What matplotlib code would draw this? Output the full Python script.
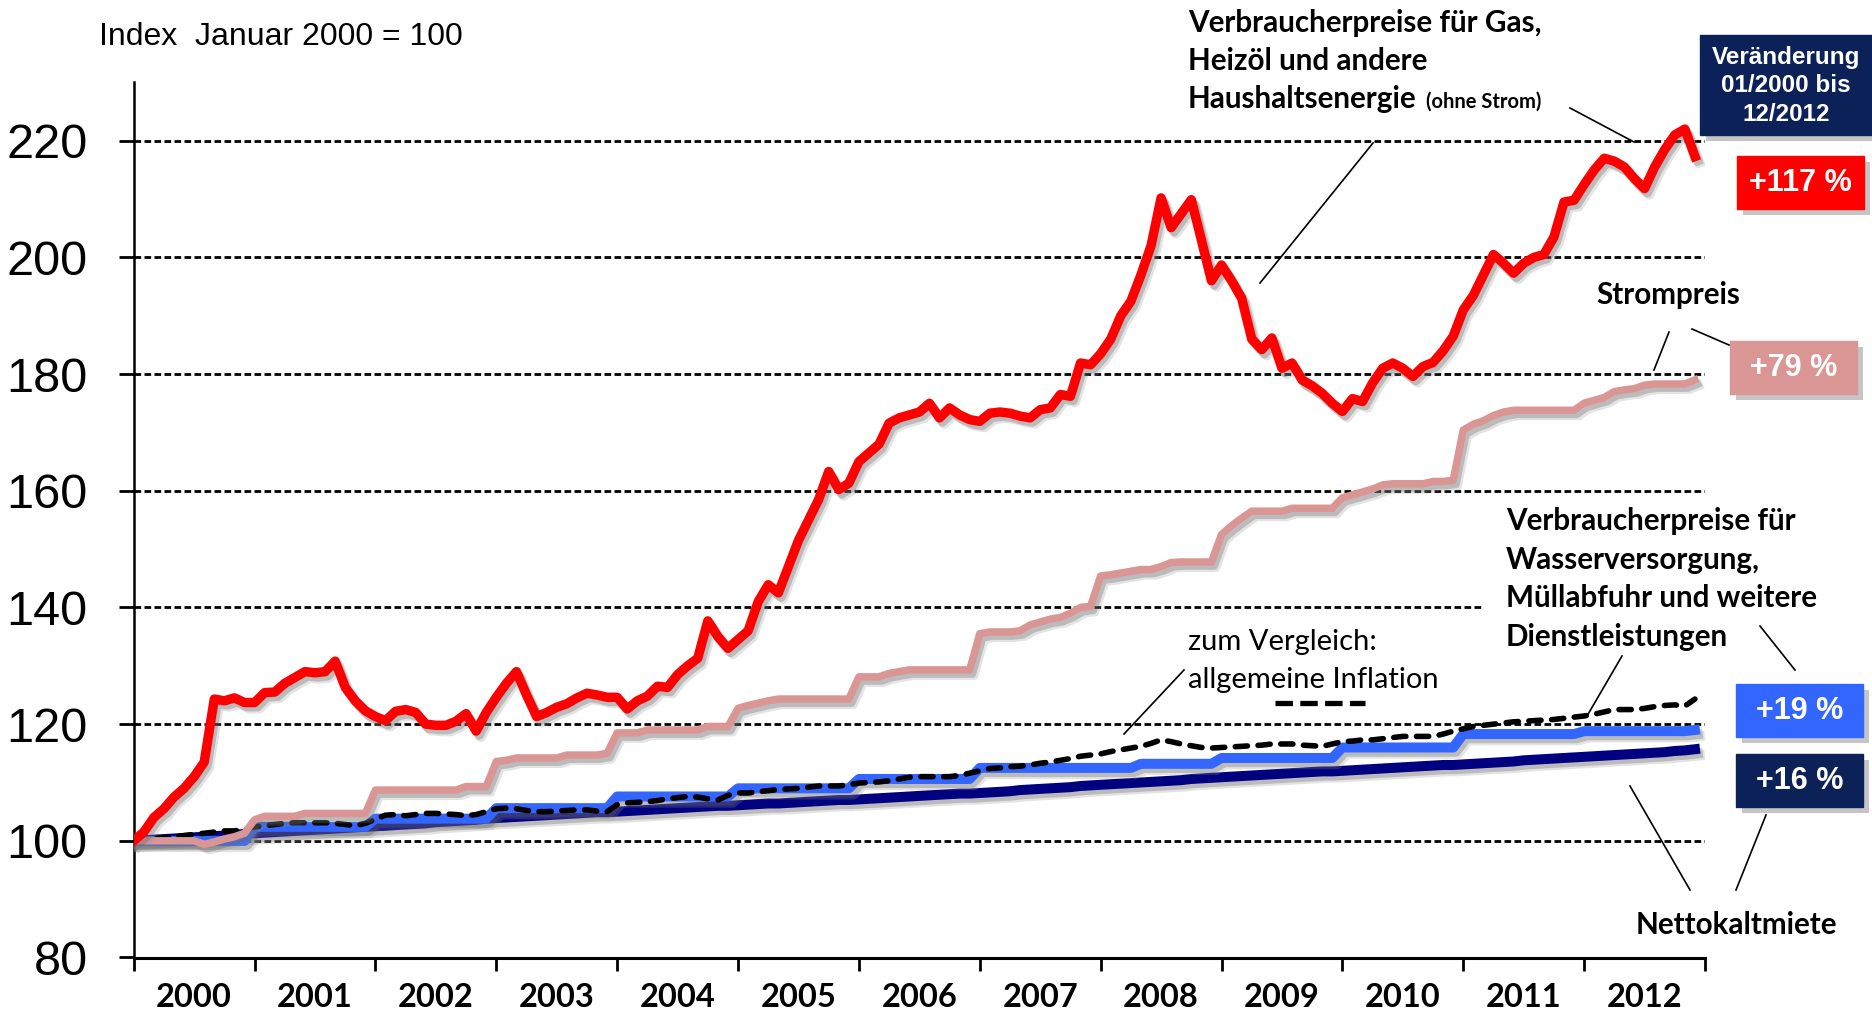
import numpy as np
import matplotlib
matplotlib.use("Agg")
import matplotlib.pyplot as plt
import matplotlib.patheffects as pe
from matplotlib.patches import Rectangle
from matplotlib.transforms import blended_transform_factory

# monthly index values, Jan 2000 = 100 (Jan 2000 .. Dec 2012)
gas = [
    100, 101.5, 104, 105.5, 107.5, 109, 111, 113.5, 124.3, 124, 124.5, 123.7,
    123.7, 125.4, 125.5, 127, 128, 129, 128.8, 129, 130.8, 126.3, 124, 122.3,
    121.3, 120.6, 122.2, 122.5, 122, 120, 119.8, 119.8, 120.5, 121.8, 118.8, 122,
    124.6, 127, 129, 125, 121.3, 122, 122.9, 123.5, 124.5, 125.3, 125, 124.6,
    124.6, 122.6, 124, 124.8, 126.5, 126.3, 128.5, 130, 131.3, 137.7, 135, 133,
    134.5, 136, 141, 143.9, 142.5, 147, 151.5, 155, 158.5, 163.3, 160.2, 161.3,
    165, 166.5, 168, 171.6, 172.5, 173, 173.5, 175, 172.5, 174.2, 173, 172.2,
    171.9, 173.3, 173.5, 173.3, 172.8, 172.5, 173.9, 174.2, 176.5, 176.2, 181.9, 181.6,
    183.5, 186, 190, 192.5, 197, 202, 210.2, 205.1, 207.5, 209.9, 203, 196,
    198.7, 196, 193, 186, 184.2, 186.2, 181, 181.9, 179, 178, 176.7, 175,
    173.6, 175.8, 175.3, 178.5, 181, 181.9, 181, 179.6, 181.3, 182, 184, 186.5,
    191, 193.5, 197, 200.5, 199, 197.3, 199, 200, 200.5, 203.5, 209.5, 209.8,
    212.5, 215, 217, 216.5, 215.5, 213.5, 211.8, 215.5, 218.5, 221, 222, 217.3,
]
strom = [
    100, 100, 100, 100, 100, 100, 100, 99.4, 99.8, 100.3, 100.7, 101.3,
    103.6, 104.2, 104.2, 104.2, 104.2, 104.7, 104.7, 104.7, 104.7, 104.7, 104.7, 104.7,
    108.7, 108.7, 108.7, 108.7, 108.7, 108.7, 108.7, 108.7, 108.7, 109.3, 109.3, 109.3,
    113.6, 113.8, 114.2, 114.2, 114.2, 114.2, 114.2, 114.7, 114.7, 114.7, 114.7, 115.0,
    118.5, 118.5, 118.5, 119, 119, 119, 119, 119, 119, 119.6, 119.6, 119.6,
    122.7, 123.2, 123.6, 124.0, 124.3, 124.3, 124.3, 124.3, 124.3, 124.3, 124.3, 124.3,
    128.1, 128.1, 128.1, 128.7, 129.0, 129.3, 129.3, 129.3, 129.3, 129.3, 129.3, 129.3,
    135.5, 135.8, 135.8, 135.8, 136.0, 137.0, 137.5, 138.0, 138.3, 139.0, 140.0, 140.2,
    145.4, 145.6, 145.9, 146.2, 146.5, 146.5, 147.0, 147.7, 147.8, 147.8, 147.8, 147.8,
    152.5, 154, 155.3, 156.5, 156.5, 156.5, 156.5, 157, 157, 157, 157, 157,
    158.8, 159.3, 159.8, 160.3, 161, 161.2, 161.2, 161.2, 161.2, 161.6, 161.6, 161.8,
    170.4, 171.4, 172, 172.9, 173.5, 173.8, 173.8, 173.8, 173.8, 173.8, 173.8, 173.8,
    175, 175.5, 176, 177, 177.3, 177.5, 178.1, 178.3, 178.3, 178.3, 178.3, 179,
]
wasser = [
    100, 100, 100, 100, 100, 100, 100, 100, 100, 100, 100, 100,
    102.4, 102.4, 102.4, 102.4, 102.4, 102.4, 102.4, 102.4, 102.4, 102.4, 102.4, 102.4,
    103.8, 103.8, 103.8, 103.8, 103.8, 103.8, 103.8, 103.8, 103.8, 103.8, 103.8, 103.8,
    105.6, 105.6, 105.6, 105.6, 105.6, 105.6, 105.6, 105.6, 105.6, 105.6, 105.6, 105.6,
    107.6, 107.6, 107.6, 107.6, 107.6, 107.6, 107.6, 107.6, 107.6, 107.6, 107.6, 107.6,
    109.0, 109.0, 109.0, 109.0, 109.0, 109.0, 109.0, 109.0, 109.0, 109.0, 109.0, 109.0,
    110.6, 110.6, 110.6, 110.6, 110.6, 110.6, 110.6, 110.6, 110.6, 110.6, 110.6, 110.6,
    112.5, 112.5, 112.5, 112.5, 112.5, 112.5, 112.5, 112.5, 112.5, 112.5, 112.5, 112.5,
    112.5, 112.5, 112.5, 112.5, 113.2, 113.2, 113.2, 113.2, 113.2, 113.2, 113.2, 113.2,
    114.2, 114.2, 114.2, 114.2, 114.2, 114.2, 114.2, 114.2, 114.2, 114.2, 114.2, 114.2,
    116.0, 116.0, 116.0, 116.0, 116.0, 116.0, 116.0, 116.0, 116.0, 116.0, 116.0, 116.0,
    118.3, 118.3, 118.3, 118.3, 118.3, 118.3, 118.3, 118.3, 118.3, 118.3, 118.3, 118.3,
    118.8, 118.8, 118.8, 118.8, 118.8, 118.8, 118.8, 118.8, 118.8, 118.8, 118.8, 119.0,
]
inflation = [
    100, 100.2, 100.4, 100.5, 100.7, 100.9, 101.1, 101.3, 101.5, 101.7, 101.7, 102.0,
    102.4, 102.6, 102.8, 103.0, 103.1, 103.1, 103.1, 103.1, 103.0, 102.8, 102.6, 103.0,
    103.7, 104.4, 104.5, 104.3, 104.5, 104.7, 104.7, 104.6, 104.5, 104.3, 104.5, 105.0,
    105.5, 105.6, 105.5, 105.2, 105.0, 105.0, 105.1, 105.2, 105.3, 105.3, 105.1, 105.0,
    106.2, 106.5, 106.6, 106.7, 106.9, 107.2, 107.4, 107.6, 107.5, 107.2, 107.0, 107.8,
    108.2, 108.2, 108.4, 108.6, 108.8, 108.9, 109.0, 109.2, 109.4, 109.4, 109.4, 109.6,
    109.9, 110.0, 110.1, 110.3, 110.6, 110.9, 111.0, 111.0, 111.0, 111.0, 111.2, 111.6,
    112.0, 112.4, 112.5, 112.7, 112.8, 113.0, 113.3, 113.5, 113.8, 114.1, 114.5, 114.7,
    114.9, 115.3, 115.6, 115.9, 116.2, 116.7, 117.3, 117.0, 116.6, 116.3, 116.0, 115.9,
    116.0, 116.1, 116.2, 116.3, 116.4, 116.6, 116.6, 116.6, 116.4, 116.3, 116.2, 116.6,
    117.0, 117.1, 117.3, 117.3, 117.5, 117.7, 117.9, 117.9, 117.9, 117.9, 118.3, 118.8,
    119.2, 119.6, 119.8, 120.0, 120.2, 120.4, 120.5, 120.6, 120.7, 120.8, 121.0, 121.2,
    121.4, 121.7, 122.1, 122.5, 122.5, 122.5, 122.7, 123.0, 123.2, 123.3, 123.1, 124.3,
]
miete = [
    100.0, 100.1, 100.2, 100.3, 100.4, 100.5, 100.6, 100.7, 100.8, 100.9, 101.0, 101.2,
    101.3, 101.4, 101.5, 101.6, 101.7, 101.8, 101.9, 102.0, 102.1, 102.2, 102.3, 102.4,
    102.5, 102.6, 102.7, 102.8, 102.9, 103.0, 103.2, 103.3, 103.4, 103.5, 103.6, 103.8,
    103.9, 104.0, 104.1, 104.2, 104.3, 104.4, 104.5, 104.6, 104.7, 104.8, 104.9, 104.9,
    105.0, 105.1, 105.2, 105.3, 105.4, 105.5, 105.6, 105.7, 105.8, 105.9, 106.0, 106.0,
    106.1, 106.2, 106.3, 106.4, 106.4, 106.5, 106.6, 106.7, 106.8, 106.9, 107.0, 107.0,
    107.1, 107.2, 107.3, 107.4, 107.5, 107.6, 107.7, 107.8, 107.9, 108.0, 108.1, 108.1,
    108.2, 108.3, 108.4, 108.5, 108.7, 108.8, 108.9, 109.0, 109.1, 109.2, 109.4, 109.5,
    109.6, 109.7, 109.8, 109.9, 110.0, 110.1, 110.2, 110.3, 110.4, 110.6, 110.7, 110.8,
    110.9, 111.0, 111.1, 111.2, 111.3, 111.4, 111.5, 111.6, 111.7, 111.8, 111.9, 111.9,
    112.0, 112.1, 112.2, 112.3, 112.4, 112.5, 112.6, 112.7, 112.8, 112.9, 113.0, 113.0,
    113.1, 113.2, 113.3, 113.4, 113.5, 113.6, 113.8, 113.9, 114.0, 114.1, 114.2, 114.3,
    114.4, 114.5, 114.6, 114.7, 114.8, 114.9, 115.0, 115.1, 115.2, 115.4, 115.5, 115.7,
]
years = list(range(2000, 2013))
changes = ["+117 %", "+79 %", "+19 %", "+16 %"]

x = 2000 + np.arange(len(gas)) / 12

W, H = 1872, 1013
CAL = ['Lato', 'DejaVu Sans']
ARIAL = ['Liberation Sans', 'DejaVu Sans']
RED, PINK, BLUE, NAVY, DARK = '#ff0000', '#d99694', '#3366ff', '#000080', '#0c2157'

fig = plt.figure(figsize=(W / 100, H / 100), dpi=100)
ax = fig.add_axes([133.7 / W, 1 - 957.5 / H, (1705 - 133.7) / W, (957.5 - 82.4) / H])
ax.set_xlim(2000, 2013)
ax.set_ylim(80, 230)

for v in range(100, 221, 20):
    ax.axhline(v, color='black', lw=2, ls=(0, (2.4, 1.2)), zorder=1)

# soft grey shadow under the lines
shadow = [pe.SimpleLineShadow(offset=(3.5, -4.5), shadow_color='#909090', alpha=0.25),
          pe.SimpleLineShadow(offset=(2, -3), shadow_color='#606060', alpha=0.3), pe.Normal()]
ax.plot(x, miete, color=NAVY, lw=7.2, path_effects=shadow, zorder=3)
ax.plot(x, wasser, color=BLUE, lw=7.2, path_effects=shadow, zorder=4)
ax.plot(x, inflation, color='black', lw=4, ls=(0, (2.2, 1.9)), dash_capstyle='round', zorder=5)
ax.plot(x, strom, color=PINK, lw=5.4, path_effects=shadow, zorder=6)
ax.plot(x, gas, color=RED, lw=6.8, path_effects=shadow, zorder=7)

for s in ['top', 'right']:
    ax.spines[s].set_visible(False)
ax.spines['left'].set_linewidth(1.8)
ax.spines['bottom'].set_linewidth(2.2)
ax.set_yticks(range(80, 221, 20))
ax.tick_params(axis='y', direction='out', length=11, width=2, pad=22, labelsize=35)
for lab in ax.get_yticklabels():
    lab.set_family(ARIAL)
ax.set_xticks(range(2000, 2014))
ax.set_xticklabels([])
ax.tick_params(axis='x', direction='out', length=9, width=2)
tr = blended_transform_factory(ax.transData, ax.transAxes)
for yr in years:
    ax.text(yr + 0.5, -0.046, str(yr), transform=tr, ha='center', va='center',
            fontsize=23.5, fontweight='bold', family=CAL)

# overlay in pixel coordinates for annotations
ov = fig.add_axes([0, 0, 1, 1], zorder=5)
ov.set_xlim(0, W)
ov.set_ylim(H, 0)
ov.axis('off')
ov.patch.set_alpha(0)

ov.add_patch(Rectangle((1484, 497), 230, 163, color='white', zorder=0))

ov.text(99, 37, "Index  Januar 2000 = 100", fontsize=23, family=ARIAL, va='center')

bold = dict(fontsize=21.3, fontweight='bold', family=CAL, va='center')
ov.text(1188, 23, "Verbraucherpreise für Gas,", **bold)
ov.text(1188, 61, "Heizöl und andere", **bold)
t = ov.text(1188, 99, "Haushaltsenergie", **bold)
fig.canvas.draw()
bb = t.get_window_extent().transformed(ov.transData.inverted())
ov.text(bb.x1 + 9, 102, "(ohne Strom)", fontsize=14.5, fontweight='bold', family=CAL, va='center')
ov.text(1668, 295, "Strompreis", ha='center', **bold)
for i, line in enumerate(["Verbraucherpreise für", "Wasserversorgung,",
                          "Müllabfuhr und weitere", "Dienstleistungen"]):
    ov.text(1506, 521 + i * 38.5, line, **bold)
ov.text(1636, 925, "Nettokaltmiete", **bold)
ov.text(1188, 642, "zum Vergleich:", fontsize=21, family=CAL, va='center')
ov.text(1188, 680, "allgemeine Inflation", fontsize=21, family=CAL, va='center')
ov.plot([1275, 1365], [703, 703], color='black', lw=3.8, ls=(0, (3.3, 1.4)))

leaders = [
    ((1570, 1634), (108, 142)),
    ((1373, 1260), (143, 283)),
    ((1669, 1654), (332, 370)),
    ((1692, 1729), (329, 345)),
    ((1184, 1124), (670, 734)),
    ((1622, 1587), (656, 716)),
    ((1760, 1795), (626, 670)),
    ((1630, 1690), (786, 890)),
    ((1766, 1736), (815, 890)),
]
for lx, ly in leaders:
    ov.plot(lx, ly, color='black', lw=1.2)

box_shadow = [pe.withSimplePatchShadow(offset=(4, -4), shadow_rgbFace='#808080', alpha=0.45)]
ov.add_patch(Rectangle((1700, 35), 172, 100, color=DARK, path_effects=box_shadow))
for i, line in enumerate(["Veränderung", "01/2000 bis", "12/2012"]):
    ov.text(1786, 57 + i * 28.5, line, color='white', fontsize=17.5, fontweight='bold',
            family=ARIAL, ha='center', va='center')

boxes = [(1737, 156, RED), (1730, 341, PINK), (1736, 684, BLUE), (1736, 754, DARK)]
for (bx, by, bc), label in zip(boxes, changes):
    ov.add_patch(Rectangle((bx, by), 127, 53, color=bc, path_effects=box_shadow))
    ov.text(bx + 63.5, by + 27, label, color='white', fontsize=22, fontweight='bold',
            family=ARIAL, ha='center', va='center')

fig.savefig("out.png", dpi=100)
